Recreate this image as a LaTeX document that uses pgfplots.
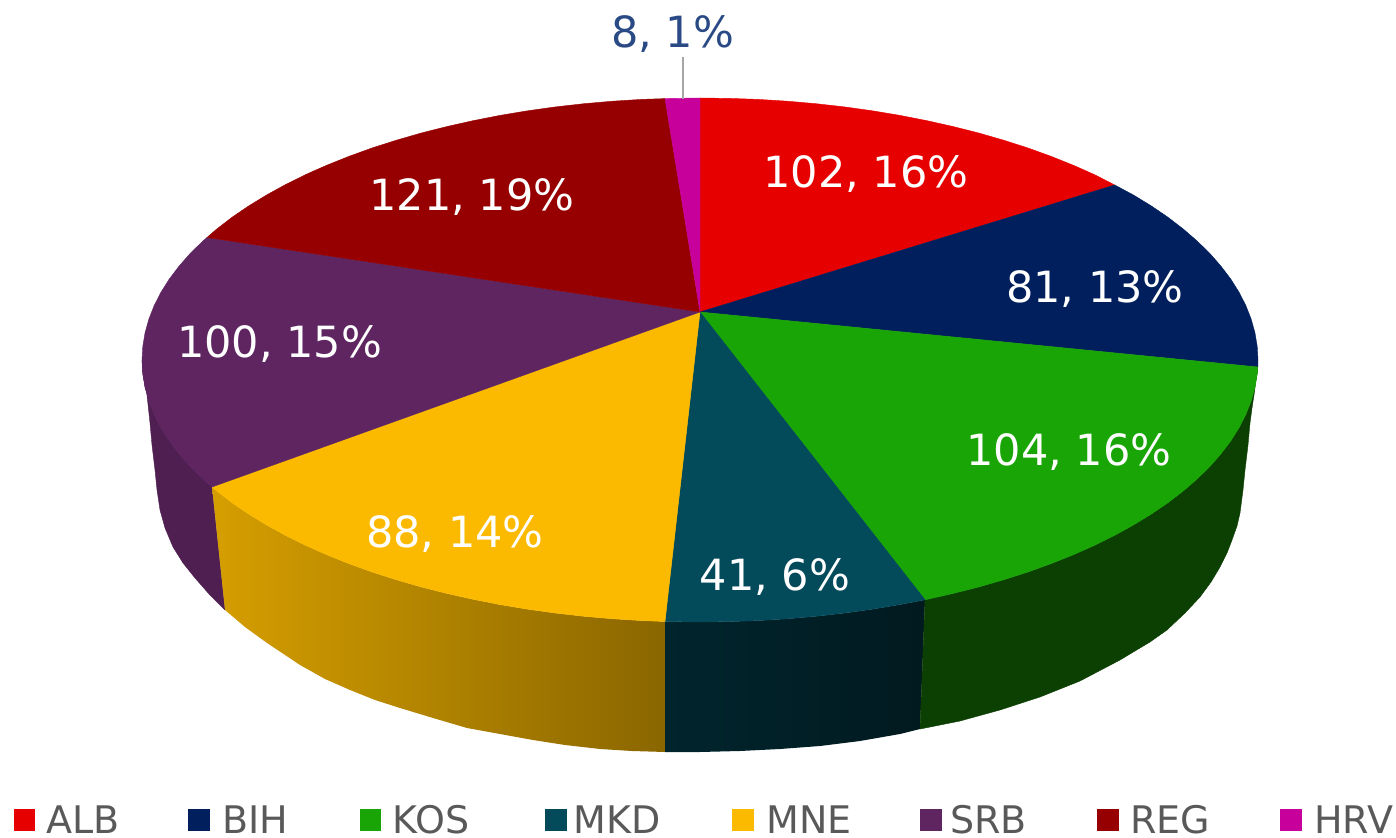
\documentclass[border=0pt]{standalone}
\usepackage{fontspec}
\setmainfont{DejaVu Sans}
\usepackage{pgfplots}
\pgfplotsset{compat=1.18}

\definecolor{alb}{HTML}{E60000}
\definecolor{bih}{HTML}{001F5C}
\definecolor{kos}{HTML}{1AA506}
\definecolor{mkd}{HTML}{034A5A}
\definecolor{mne}{HTML}{FBBA00}
\definecolor{srb}{HTML}{5E2561}
\definecolor{reg}{HTML}{960000}
\definecolor{hrv}{HTML}{C8009B}
\definecolor{srbside}{HTML}{4F1F52}
\definecolor{kosside}{HTML}{0C3F02}
\definecolor{legtext}{HTML}{595959}
\definecolor{toptext}{HTML}{2A4A85}

\pgfplotsset{
  slice/.style={fill=#1, draw=#1, line width=0.2pt},
  key/.style={only marks, mark=square*, mark size=5.1pt, color=#1, mark options={fill=#1, draw=#1, line width=0.2pt}},
}
% one axis unit is one pixel of the reference
\newcommand{\vallabel}[4][white]{\node[anchor=base, text=#1, font=\fontsize{21.5}{21.5}\selectfont, inner sep=0pt] at (axis cs:#2,#3) {#4};}
\newcommand{\leglabel}[2]{\node[anchor=base west, text=legtext, font=\fontsize{19}{19}\selectfont, inner sep=0pt] at (axis cs:#1,833) {#2};}

\begin{document}
\begin{tikzpicture}
\useasboundingbox (0,0) rectangle (698pt,419pt);
\begin{axis}[
    at={(0,0)},
    anchor=south west,
    scale only axis,
    width=698pt,
    height=419pt,
    xmin=0, xmax=1396,
    ymin=0, ymax=838,
    y dir=reverse,
    hide axis,
    clip=false,
]
% side walls
\addplot[slice=srbside] coordinates {(142,360)(142.8,373.7)(145.1,387.4)(148.9,401)(154.2,414.5)(161,427.8)(169.3,441)(179.1,453.9)(190.2,466.6)(202.8,478.9)(212,487)(225,610)(209,594)(195,578)(183,563)(173,547)(165,528)(160,510)(157,490)(155,470)(152,445)(150,423)(147,395)(143,365)} --cycle;
\addplot[draw=none, left color=mne!85!black, right color=mne!55!black] coordinates {(665,621.5)(641.7,620.6)(612.7,618.8)(584,616.3)(555.6,613.1)(527.6,609.2)(500,604.6)(473,599.3)(446.7,593.4)(421,586.9)(396.1,579.7)(372,572)(348.8,563.6)(326.6,554.7)(305.4,545.3)(285.3,535.3)(266.4,524.9)(248.6,514)(232,502.7)(212,487)(225,610)(245,627)(267,643)(300,665)(325,679)(350,690)(375,700)(400,708)(433,718)(467,728)(500,734)(533,740)(565,745)(600,749)(632,751)(665,752)} --cycle;
\addplot[draw=none, left color=mkd!50!black, right color=mkd!35!black] coordinates {(925,599.8)(900,604.6)(872.4,609.2)(844.4,613.1)(816,616.3)(787.3,618.8)(758.3,620.6)(729.2,621.6)(700,622)(670.8,621.6)(665,621.5)(665,752)(700,752)(740,751)(780,749)(820,746)(860,741)(900,734)(920,729)} --cycle;
\addplot[slice=kosside] coordinates {(1257.8,367)(1257.2,373.7)(1254.9,387.4)(1251.1,401)(1245.8,414.5)(1239,427.8)(1230.7,441)(1220.9,453.9)(1209.8,466.6)(1197.2,478.9)(1183.2,491)(1168,502.7)(1151.4,514)(1133.6,524.9)(1114.7,535.3)(1094.6,545.3)(1073.4,554.7)(1051.2,563.6)(1028,572)(1003.9,579.7)(979,586.9)(953.3,593.4)(925,599.8)(920,729)(960,721)(1000,710)(1040,697)(1080,681)(1120,660)(1150,642)(1167,630)(1185,613)(1200,597)(1211,582)(1220,567)(1227,553)(1232,540)(1237,526)(1240,513)(1243,490)(1245,470)(1248,445)(1250,423)(1252,408)(1254,395)(1256,380)} --cycle;
% top face
\addplot[slice=alb] coordinates {(700,312)(700,98)(729.2,98.4)(758.3,99.4)(787.3,101.2)(816,103.7)(844.4,106.9)(872.4,110.8)(900,115.4)(927,120.7)(953.3,126.6)(979,133.1)(1003.9,140.3)(1028,148)(1051.2,156.4)(1073.4,165.3)(1094.6,174.7)(1114.7,185)} --cycle;
\addplot[slice=bih] coordinates {(700,312)(1114.7,185)(1133.6,195.1)(1151.4,206)(1168,217.3)(1183.2,229)(1197.2,241.1)(1209.8,253.4)(1220.9,266.1)(1230.7,279)(1239,292.2)(1245.8,305.5)(1251.1,319)(1254.9,332.6)(1257.2,346.3)(1258,360)(1257.8,367)} --cycle;
\addplot[slice=kos] coordinates {(700,312)(1257.8,367)(1257.2,373.7)(1254.9,387.4)(1251.1,401)(1245.8,414.5)(1239,427.8)(1230.7,441)(1220.9,453.9)(1209.8,466.6)(1197.2,478.9)(1183.2,491)(1168,502.7)(1151.4,514)(1133.6,524.9)(1114.7,535.3)(1094.6,545.3)(1073.4,554.7)(1051.2,563.6)(1028,572)(1003.9,579.7)(979,586.9)(953.3,593.4)(925,599.8)} --cycle;
\addplot[slice=mkd] coordinates {(700,312)(925,599.8)(900,604.6)(872.4,609.2)(844.4,613.1)(816,616.3)(787.3,618.8)(758.3,620.6)(729.2,621.6)(700,622)(670.8,621.6)(665,621.5)} --cycle;
\addplot[slice=mne] coordinates {(700,312)(665,621.5)(641.7,620.6)(612.7,618.8)(584,616.3)(555.6,613.1)(527.6,609.2)(500,604.6)(473,599.3)(446.7,593.4)(421,586.9)(396.1,579.7)(372,572)(348.8,563.6)(326.6,554.7)(305.4,545.3)(285.3,535.3)(266.4,524.9)(248.6,514)(232,502.7)(216.8,491)(212,487)} --cycle;
\addplot[slice=srb] coordinates {(700,312)(212,487)(202.8,478.9)(190.2,466.6)(179.1,453.9)(169.3,441)(161,427.8)(154.2,414.5)(148.9,401)(145.1,387.4)(142.8,373.7)(142,360)(142.8,346.3)(145.1,332.6)(148.9,319)(154.2,305.5)(161,292.2)(169.3,279)(179.1,266.1)(190.2,253.4)(202.8,241.1)(207,237.5)} --cycle;
\addplot[slice=reg] coordinates {(700,312)(207,237.5)(216.8,229)(232,217.3)(248.6,206)(266.4,195.1)(285.3,184.7)(305.4,174.7)(326.6,165.3)(348.8,156.4)(372,148)(396.1,140.3)(421,133.1)(446.7,126.6)(473,120.7)(500,115.4)(527.6,110.8)(555.6,106.9)(584,103.7)(612.7,101.2)(641.7,99.4)(665,98.6)} --cycle;
\addplot[slice=hrv] coordinates {(700,312)(665,98.6)(670.8,98.4)(700,98)} --cycle;
% leader of the small slice
\addplot[color=black!35, line width=1pt] coordinates {(683,57)(683,99)};
% value labels
\vallabel[toptext]{672.5}{48}{8, 1\%}
\vallabel{866}{188}{102, 16\%}
\vallabel{1095}{303}{81, 13\%}
\vallabel{1069}{466}{104, 16\%}
\vallabel{775}{591}{41, 6\%}
\vallabel{455}{548}{88, 14\%}
\vallabel{279.5}{358}{100, 15\%}
\vallabel{472}{211}{121, 19\%}
% legend
\addplot[key=alb] coordinates {(24,819.5)};
\addplot[key=bih] coordinates {(198.5,819.5)};
\addplot[key=kos] coordinates {(370,819.5)};
\addplot[key=mkd] coordinates {(555.5,819.5)};
\addplot[key=mne] coordinates {(742.5,819.5)};
\addplot[key=srb] coordinates {(930.5,819.5)};
\addplot[key=reg] coordinates {(1107.5,819.5)};
\addplot[key=hrv] coordinates {(1290.5,819.5)};
\leglabel{46}{ALB}
\leglabel{222}{BIH}
\leglabel{392}{KOS}
\leglabel{573}{MKD}
\leglabel{766}{MNE}
\leglabel{950}{SRB}
\leglabel{1130}{REG}
\leglabel{1314}{HRV}
\end{axis}
\end{tikzpicture}
\end{document}
